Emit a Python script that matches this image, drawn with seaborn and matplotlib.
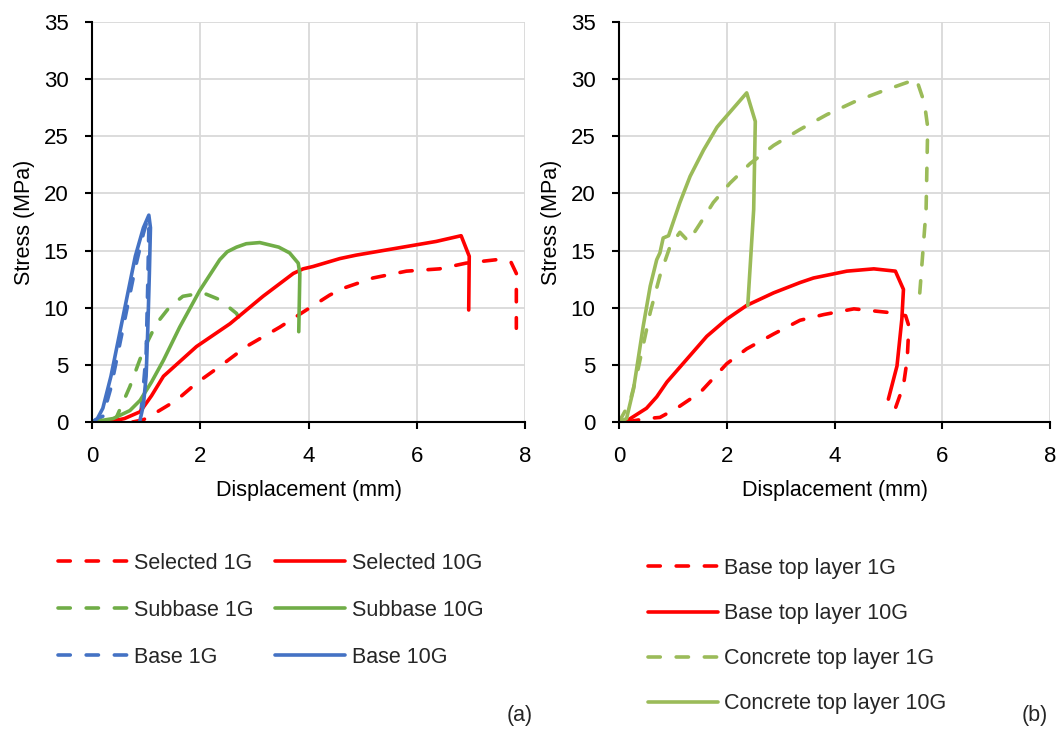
import matplotlib
matplotlib.use("Agg")
import matplotlib.pyplot as plt
import seaborn as sns
from matplotlib.lines import Line2D

# ---------------- data (a) ----------------
sel1_x = [0.75, 0.95, 1.07, 1.56, 1.93, 2.40, 2.85, 3.47, 3.96, 4.39, 4.64, 5.19, 5.81, 6.42, 6.91, 7.47, 7.74, 7.84, 7.84]
sel1_y = [0.0, 0.2, 0.5, 1.9, 3.4, 5.0, 6.6, 8.3, 9.8, 11.1, 11.7, 12.6, 13.2, 13.4, 13.9, 14.2, 14.0, 13.0, 8.2]
sel10_x = [0.30, 0.60, 0.89, 1.10, 1.32, 1.93, 2.55, 3.16, 3.72, 3.90, 4.08, 4.58, 4.88, 5.99, 6.36, 6.82, 6.97, 6.96]
sel10_y = [0.0, 0.3, 0.9, 2.3, 4.0, 6.6, 8.6, 11.0, 13.0, 13.4, 13.6, 14.3, 14.6, 15.5, 15.8, 16.3, 14.5, 9.8]
sub1_x = [0.42, 0.46, 0.70, 0.95, 1.19, 1.44, 1.68, 2.05, 2.36, 2.67, 2.85]
sub1_y = [0.0, 0.5, 3.1, 6.3, 8.6, 10.1, 11.0, 11.3, 10.7, 9.5, 8.0]
sub10_x = [0.0, 0.39, 0.70, 0.89, 1.10, 1.32, 1.62, 1.99, 2.36, 2.50, 2.67, 2.85, 3.10, 3.45, 3.65, 3.81, 3.84, 3.82]
sub10_y = [0.0, 0.3, 1.0, 1.9, 3.5, 5.4, 8.3, 11.5, 14.2, 14.9, 15.3, 15.6, 15.7, 15.3, 14.8, 13.9, 13.0, 7.9]
base1_x = [0.0, 0.20, 0.35, 0.50, 0.65, 0.80, 0.95, 1.03, 1.05, 1.03, 1.00, 0.93, 0.88]
base1_y = [0.0, 0.5, 3.0, 6.5, 10.0, 13.5, 16.5, 17.8, 17.0, 12.0, 6.0, 2.0, 0.0]
base10_x = [0.0, 0.10, 0.20, 0.35, 0.50, 0.65, 0.80, 0.95, 1.05, 1.08, 1.06, 1.03, 1.00, 0.95, 0.88]
base10_y = [0.0, 0.3, 1.2, 4.0, 7.5, 11.0, 14.5, 17.0, 18.1, 17.0, 13.0, 8.0, 4.0, 1.5, 0.0]

# ---------------- data (b) ----------------
btop1_x = [0.14, 0.51, 0.76, 1.07, 1.51, 2.00, 2.37, 2.87, 3.36, 3.80, 4.36, 4.97, 5.32, 5.38, 5.35, 5.28, 5.13]
btop1_y = [0.0, 0.3, 0.4, 1.2, 2.6, 5.1, 6.4, 7.7, 8.9, 9.4, 9.9, 9.6, 9.3, 8.4, 5.5, 3.2, 1.2]
btop10_x = [0.11, 0.51, 0.70, 0.89, 1.26, 1.63, 2.00, 2.37, 2.87, 3.36, 3.61, 4.23, 4.73, 5.13, 5.28, 5.25, 5.16, 5.00]
btop10_y = [0.0, 1.2, 2.2, 3.5, 5.5, 7.5, 9.0, 10.2, 11.3, 12.2, 12.6, 13.2, 13.4, 13.2, 11.6, 9.0, 4.9, 2.0]
conc1_x = [0.0, 0.20, 0.33, 0.58, 0.76, 0.95, 1.13, 1.29, 1.51, 1.75, 2.06, 2.43, 2.87, 3.36, 3.86, 4.36, 4.86, 5.52, 5.67, 5.73, 5.70, 5.57]
conc1_y = [0.0, 1.7, 4.1, 9.6, 12.8, 15.4, 16.6, 15.8, 17.4, 19.2, 20.9, 22.6, 24.2, 25.6, 26.9, 28.0, 28.9, 30.0, 27.9, 25.8, 18.6, 10.5]
conc10_x = [0.0, 0.14, 0.27, 0.45, 0.58, 0.70, 0.76, 0.82, 0.92, 1.13, 1.32, 1.57, 1.82, 1.91, 2.37, 2.53, 2.50, 2.39]
conc10_y = [0.0, 0.3, 2.9, 8.4, 11.9, 14.2, 14.8, 16.1, 16.3, 19.2, 21.5, 23.8, 25.8, 26.3, 28.8, 26.3, 18.6, 10.2]

x_ticks = [0, 2, 4, 6, 8]
y_ticks = [0, 5, 10, 15, 20, 25, 30, 35]

RED = "#FF0000"
GREEN_A = "#70AD47"
BLUE = "#4472C4"
GREEN_B = "#9BBB59"
DASH = (0, (3.4, 4.4))
LW = 2.6

sns.set_theme(style="whitegrid")
plt.rcParams["font.family"] = ["Liberation Sans", "DejaVu Sans"]

fig = plt.figure(figsize=(10.6, 7.31), dpi=100)
axA = fig.add_axes([92 / 1060, 1 - 422 / 731, 433 / 1060, 400 / 731])
axB = fig.add_axes([619 / 1060, 1 - 422 / 731, 431 / 1060, 400 / 731])


def draw(ax, x, y, color, dashed, label):
    kw = dict(linestyle=DASH, dash_capstyle="round") if dashed else dict(solid_capstyle="round")
    sns.lineplot(x=x, y=y, ax=ax, sort=False, estimator=None, color=color,
                 linewidth=LW, legend=False, **kw)
    return Line2D([0], [0], color=color, linewidth=LW, label=label, **kw)


hA = [
    draw(axA, sel1_x, sel1_y, RED, True, "Selected 1G"),
    draw(axA, sub1_x, sub1_y, GREEN_A, True, "Subbase 1G"),
    draw(axA, base1_x, base1_y, BLUE, True, "Base 1G"),
]
hA += [
    draw(axA, sel10_x, sel10_y, RED, False, "Selected 10G"),
    draw(axA, sub10_x, sub10_y, GREEN_A, False, "Subbase 10G"),
    draw(axA, base10_x, base10_y, BLUE, False, "Base 10G"),
]
hB = [
    draw(axB, btop1_x, btop1_y, RED, True, "Base top layer 1G"),
    draw(axB, btop10_x, btop10_y, RED, False, "Base top layer 10G"),
    draw(axB, conc1_x, conc1_y, GREEN_B, True, "Concrete top layer 1G"),
    draw(axB, conc10_x, conc10_y, GREEN_B, False, "Concrete top layer 10G"),
]

for ax in (axA, axB):
    ax.set_xlim(0, 8)
    ax.set_ylim(0, 35)
    ax.set_xticks(x_ticks)
    ax.set_yticks(y_ticks)
    ax.grid(True, color="#D9D9D9", linewidth=1.3)
    ax.set_axisbelow(True)
    for s in ("top", "right"):
        ax.spines[s].set_visible(False)
    for s in ("left", "bottom"):
        ax.spines[s].set_visible(True)
        ax.spines[s].set_color("black")
        ax.spines[s].set_linewidth(1.5)
    ax.tick_params(axis="both", which="major", bottom=True, left=True, length=5,
                   width=1.5, color="black", direction="out", labelsize=16,
                   labelcolor="black")
    ax.tick_params(axis="x", pad=12)
    ax.tick_params(axis="y", pad=12)
    ax.set_xlabel("Displacement (mm)", fontsize=15.5, color="black", labelpad=9.5)
    ax.set_ylabel("Stress (MPa)", fontsize=15.5, color="black", labelpad=6)
    ax.set_facecolor("white")

fig.legend(handles=hA, ncol=2, loc="upper left", bbox_to_anchor=(58 / 1060, 1 - 553 / 731),
           frameon=False, fontsize=15.5, handlelength=3.25, handletextpad=0.3,
           columnspacing=1.0, labelspacing=1.2, borderpad=0, borderaxespad=0)
fig.legend(handles=hB, ncol=1, loc="upper left", bbox_to_anchor=(648 / 1060, 1 - 558 / 731),
           frameon=False, fontsize=15.5, handlelength=3.25, handletextpad=0.3,
           labelspacing=1.12, borderpad=0, borderaxespad=0)

fig.text(520 / 1060, 1 - 715 / 731, "(a)", ha="center", va="center", fontsize=15.5)
fig.text(1035 / 1060, 1 - 715 / 731, "(b)", ha="center", va="center", fontsize=15.5)

fig.savefig("out.png", dpi=100, facecolor="white")
